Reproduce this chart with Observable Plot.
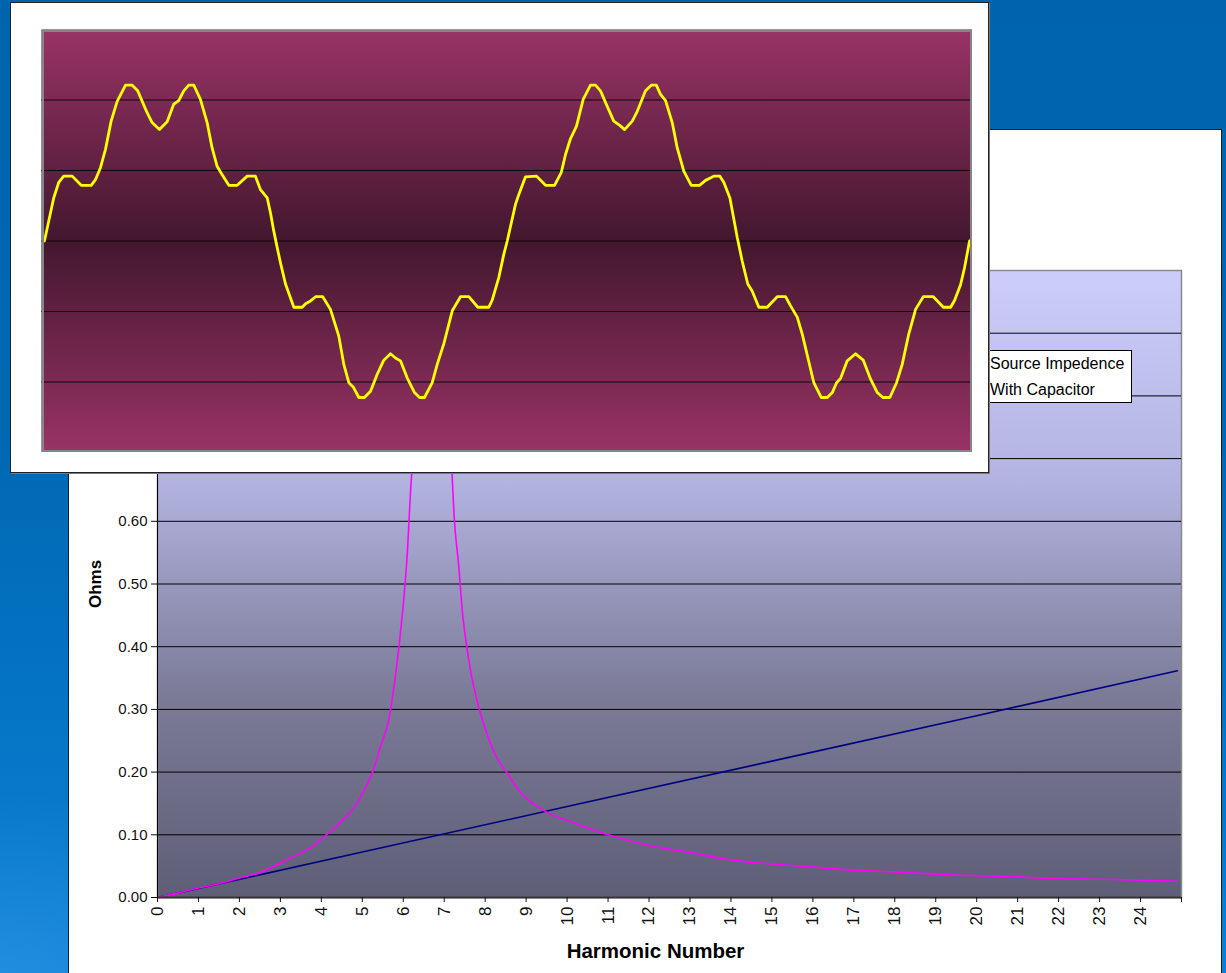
<!DOCTYPE html>
<html><head><meta charset="utf-8">
<script src="https://cdn.jsdelivr.net/npm/d3@7"></script>
<script src="https://cdn.jsdelivr.net/npm/@observablehq/plot@0.6"></script>
<style>
html,body{margin:0;padding:0;}
body{width:1226px;height:973px;overflow:hidden;position:relative;font-family:"Liberation Sans",Arial,sans-serif;
 background: radial-gradient(ellipse 420px 260px at 0% 100%, rgba(120,190,255,0.22), rgba(0,0,0,0) 70%), linear-gradient(to bottom,#0063ad 0%,#0068b3 45%,#0a80d6 100%);}
#mainPanel{position:absolute;left:68px;top:129px;width:1154px;height:860px;background:#fff;border:1px solid #1c1c1c;box-sizing:border-box;}
#mainChart{position:absolute;left:69px;top:129px;}
#legend{position:absolute;left:900px;top:350px;width:232px;height:53px;background:#fff;border:1px solid #000;box-sizing:border-box;}
.leg{position:absolute;left:990px;font-size:16px;color:#000;line-height:1;white-space:nowrap;}
#insetPanel{position:absolute;left:10px;top:2px;width:979px;height:471px;background:#fff;border:1px solid #222;box-sizing:border-box;box-shadow:1px 1px 0 #7a7a7a;}
#insetChart{position:absolute;left:41px;top:29px;}
</style></head>
<body>
<div id="mainPanel"></div>
<div id="mainChart"></div>
<div id="legend"></div>
<div class="leg" style="top:356px">Source Impedence</div>
<div class="leg" style="top:382px">With Capacitor</div>
<div id="insetPanel"></div>
<div id="insetChart"></div>
<script>
// ---- Data ----
const xTickLabels = [0,1,2,3,4,5,6,7,8,9,10,11,12,13,14,15,16,17,18,19,20,21,22,23,24];
const yTickValues = [0,0.1,0.2,0.3,0.4,0.5,0.6,0.7,0.8,0.9,1.0];

const srcHarmonic = [0,5,10,15,20,24.9];
const srcOhms = [0,0.0725,0.145,0.2175,0.29,0.3616];

const capHarmonic = [0,0.5,1,1.5,2,2.5,2.84,3.25,3.82,4.06,4.63,4.87,5.04,5.24,5.44,5.65,5.75,5.85,5.92,5.99,6.05,6.10,6.14,6.18,6.23,6.3,6.4,6.5,6.6,6.7,6.8,6.9,7.0,7.1,7.18,7.24,7.36,7.44,7.54,7.64,7.85,8.01,8.21,8.54,8.86,9.19,9.59,10,11,12,13,14,15.7,16.9,18.2,19.4,20.6,22.0,23.1,24.9];
const capOhms = [0,0.007,0.015,0.022,0.031,0.040,0.050,0.063,0.083,0.0965,0.131,0.150,0.171,0.198,0.240,0.285,0.325,0.375,0.415,0.460,0.505,0.550,0.600,0.650,0.700,0.80,1.05,1.5,2.4,3.2,2.5,1.6,1.1,0.82,0.690,0.610,0.525,0.458,0.405,0.363,0.302,0.267,0.2325,0.198,0.168,0.149,0.133,0.123,0.100,0.083,0.072,0.060,0.050,0.044,0.040,0.036,0.034,0.030,0.029,0.026];

const waveAngle = [0,3.3,7.2,11.1,15.0,21.6,28.6,36.4,39.7,43.6,47.5,51.9,56.6,63.1,68.3,72.6,79.9,83.8,89.5,95.5,100.6,104.5,108.4,112.3,116.2,121.4,126.6,130.5,134.4,138.3,143.5,150.0,157.8,164.2,168.1,173.4,175.9,178.5,181.1,183.7,187.6,194.1,200.6,203.2,207.1,211.0,216.6,222.6,229.1,233.0,236.9,240.3,244.7,249.1,253.8,259.0,264.1,269.3,273.2,277.1,282.3,288.0,291.9,295.8,301.8,305.7,310.8,317.4,323.8,330.3,337.3,345.8,348.5,353.6,357.5,360.2,366.6,369.2,374.4,383.0,390.0,397.0,402.2,405.6,409.4,414.1,419.3,425.0,428.9,432.8,438.0,443.1,447.8,451.5,457.5,461.4,467.8,472.3,476.2,479.5,483.4,488.6,492.5,497.6,503.4,509.9,514.5,519.0,521.0,525.7,528.8,533.5,539.2,543.0,547.4,550.8,556.0,562.5,570.3,576.8,580.7,585.9,589.8,595.0,598.8,604.6,609.3,613.2,616.5,619.6,624.8,631.3,637.3,643.0,648.2,652.5,658.0,663.2,667.6,672.7,678.0,684.0,691.8,699.6,705.3,708.4,713.0,716.1,720];
const waveValue = [0,0.28,0.61,0.83,0.92,0.92,0.79,0.79,0.87,1.04,1.30,1.70,1.98,2.21,2.21,2.13,1.82,1.68,1.58,1.69,1.94,1.99,2.13,2.21,2.21,2.01,1.68,1.32,1.06,0.94,0.79,0.79,0.92,0.92,0.73,0.61,0.40,0.14,-0.09,-0.31,-0.61,-0.94,-0.94,-0.89,-0.85,-0.79,-0.79,-0.97,-1.35,-1.75,-2.01,-2.07,-2.22,-2.22,-2.13,-1.89,-1.69,-1.60,-1.66,-1.70,-1.94,-2.15,-2.22,-2.22,-2.01,-1.75,-1.46,-0.99,-0.79,-0.79,-0.94,-0.94,-0.84,-0.52,-0.19,0,0.52,0.66,0.91,0.92,0.79,0.79,0.97,1.23,1.45,1.63,2.01,2.21,2.21,2.13,1.91,1.70,1.64,1.58,1.70,1.84,2.13,2.21,2.21,2.08,1.99,1.68,1.32,0.99,0.79,0.79,0.86,0.90,0.92,0.92,0.83,0.61,0.05,-0.28,-0.61,-0.71,-0.94,-0.94,-0.79,-0.79,-0.92,-1.08,-1.32,-1.72,-2.01,-2.22,-2.22,-2.15,-2.01,-1.95,-1.70,-1.60,-1.69,-1.96,-2.15,-2.22,-2.22,-2.01,-1.75,-1.32,-0.97,-0.79,-0.79,-0.94,-0.94,-0.84,-0.62,-0.38,0];
const insetGridValues = [-2,-1,0,1,2];

// ---- Tables ----
const srcData = srcHarmonic.map((h,i) => ({h, z: srcOhms[i]}));
const capData = capHarmonic.map((h,i) => ({h, z: capOhms[i]}));
const n = Math.min(waveAngle.length, waveValue.length);
const waveData = waveAngle.slice(0,n).map((a,i) => ({a, v: waveValue[i]}));

function addGradient(svg, id, stops) {
  const defs = d3.select(svg).insert("defs", ":first-child");
  const g = defs.append("linearGradient").attr("id", id).attr("x1",0).attr("y1",0).attr("x2",0).attr("y2",1);
  stops.forEach(([o,c]) => g.append("stop").attr("offset", o).attr("stop-color", c));
}

const font = "'Liberation Sans', Arial, sans-serif";

// ---- Main chart ----
const main = Plot.plot({
  width: 1152, height: 844,
  marginLeft: 88, marginRight: 40, marginTop: 141, marginBottom: 76,
  style: {fontFamily: font, background: "transparent", color: "#111"},
  x: {domain: [0, 25]},
  y: {domain: [0, 1]},
  marks: [
    Plot.frame({fill: "url(#plotGrad)", stroke: "#8a8a8a", strokeWidth: 1.5}),
    Plot.gridY(yTickValues.slice(1, 10), {stroke: "#000", strokeOpacity: 1, strokeWidth: 1}),
    Plot.line(srcData, {x: "h", y: "z", stroke: "#000080", strokeWidth: 1.6, clip: true}),
    Plot.line(capData, {x: "h", y: "z", stroke: "#ff00ff", strokeWidth: 1.6, curve: "monotone-x", clip: true}),
    Plot.ruleY([0], {stroke: "#333", strokeWidth: 2}),
    Plot.ruleX([0], {stroke: "#000", strokeWidth: 1}),
    Plot.axisY({ticks: yTickValues, tickFormat: d3.format(".2f"), tickSize: 6, tickPadding: 4, fontSize: 15, label: null}),
    Plot.axisX({ticks: [...xTickLabels, 25], tickFormat: d => d === 25 ? "" : String(d), tickRotate: -90, tickSize: 5, tickPadding: 4, fontSize: 17, label: null}),
    Plot.text(["Ohms"], {text: d => d, frameAnchor: "left", textAnchor: "middle", lineAnchor: "middle", rotate: -90, dx: -62, fontWeight: "bold", fontSize: 17, fill: "#000"}),
    Plot.text(["Harmonic Number"], {text: d => d, frameAnchor: "bottom", textAnchor: "middle", lineAnchor: "middle", dy: 54, dx: -14, fontWeight: "bold", fontSize: 20.5, fill: "#000"})
  ]
});
addGradient(main, "plotGrad", [[0,"#cdcdfb"],[0.33,"#b4b4e2"],[0.67,"#7c7c99"],[1,"#5e5e77"]]);
document.getElementById("mainChart").appendChild(main);

// ---- Inset chart ----
const inset = Plot.plot({
  width: 931, height: 423, margin: 0,
  style: {background: "transparent"},
  x: {domain: [-2.3, 722.3], axis: null},
  y: {domain: [-3, 3], axis: null},
  marks: [
    Plot.frame({fill: "url(#insetGrad)"}),
    Plot.gridY(insetGridValues, {stroke: "#12050b", strokeOpacity: 1, strokeWidth: 1.2}),
    Plot.line(waveData, {x: "a", y: "v", stroke: "#ffff00", strokeWidth: 2.8}),
    Plot.frame({stroke: "#858585", strokeWidth: 2.5, inset: 1.25})
  ]
});
addGradient(inset, "insetGrad", [[0,"#993366"],[0.5,"#43172e"],[1,"#993366"]]);
document.getElementById("insetChart").appendChild(inset);
</script>
</body></html>
